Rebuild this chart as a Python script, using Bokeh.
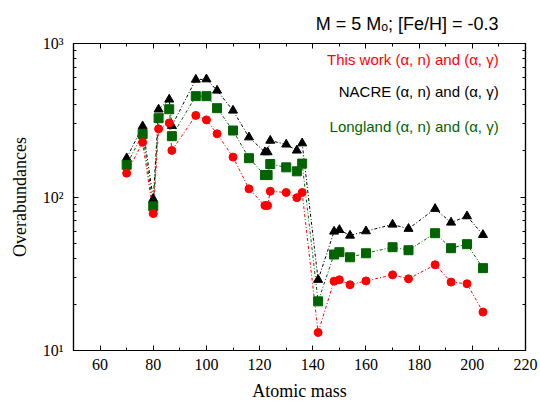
from bokeh.plotting import figure
from bokeh.models import (LinearAxis, LogAxis, SingleIntervalTicker, FixedTicker, Label,
                          CustomJSTickFormatter)
from bokeh.embed import file_html
from bokeh.resources import INLINE

# ---- data ----
mass = [70, 76, 80, 82, 86, 87, 96, 100, 104, 110, 116, 122, 123, 124, 130, 134, 136,
        142, 148, 150, 154, 160, 170, 176, 186, 192, 198, 204]
this_work = [143, 227, 78, 278, 304, 201, 340, 318, 258, 182, 113, 88, 88, 109, 107, 99, 107,
             13.1, 28.3, 28.9, 26.8, 28.4, 31.1, 29.3, 36.2, 27.9, 27.2, 17.8]
nacre = [179, 289, 97, 372, 432, 291, 582, 585, 494, 366, 245, 196, 196, 233, 220, 201, 224,
         28.9, 59.6, 61.1, 56.1, 59.9, 66.2, 62.1, 83.8, 68.2, 75.0, 56.7]
longland = [162, 257, 87, 326, 373, 249, 454, 454, 379, 271, 179, 139, 139, 164, 156, 147, 165,
            20.9, 42.2, 43.7, 40.5, 43.0, 47.1, 45.0, 58.1, 46.4, 49.3, 34.4]

legend_labels = ["This work (\u03b1, n) and (\u03b1, \u03b3)",
                 "NACRE (\u03b1, n) and (\u03b1, \u03b3)",
                 "Longland (\u03b1, n) and (\u03b1, \u03b3)"]
colors = ["#ff0000", "#000000", "#006400"]
title_text = "M = 5 M\u2092; [Fe/H] = -0.3"
x_label = "Atomic mass"
y_label = "Overabundances"
y_major = [10, 100, 1000]
y_major_labels = ["10\u00b9", "10\u00b2", "10\u00b3"]
y_minor = [m * d for d in (10, 100) for m in range(2, 10)]

p = figure(width=540, height=416, x_range=(50, 220), y_range=(10, 1000),
           y_axis_type="log", output_backend="svg", toolbar_location=None,
           min_border_left=73, min_border_right=15, min_border_top=43, min_border_bottom=66)
p.xgrid.visible = False
p.ygrid.visible = False
p.outline_line_color = "black"
p.outline_line_width = 1.2
p.background_fill_color = "white"
p.border_fill_color = "white"

serif = "Liberation Serif"
sans = "Liberation Sans"

p.title.text = title_text
p.title.align = "right"
p.title.offset = 27
p.title.text_font = sans
p.title.text_font_size = "18px"
p.title.text_font_style = "normal"
p.title.text_color = "black"
p.title.vertical_align = "top"
p.title.standoff = 16

def style_axis(ax, show_labels):
    ax.axis_line_color = "black"
    ax.axis_line_width = 1.2
    ax.major_tick_in = 5
    ax.major_tick_out = 0
    ax.minor_tick_in = 3
    ax.minor_tick_out = 0
    ax.major_tick_line_color = "black"
    ax.minor_tick_line_color = "black"
    ax.major_label_text_font = serif
    ax.major_label_text_font_size = "16px"
    ax.major_label_text_color = "black"
    ax.axis_label_text_font = serif
    ax.axis_label_text_font_size = "18px"
    ax.axis_label_text_font_style = "normal"
    ax.axis_label_text_color = "black"
    if not show_labels:
        ax.formatter = CustomJSTickFormatter(code="return ''")
        ax.major_label_standoff = 0

xa = p.xaxis[0]
xa.ticker = SingleIntervalTicker(interval=20, num_minor_ticks=2)
style_axis(xa, True)
xa.axis_label = x_label
xa.major_label_standoff = 8
xa.axis_label_standoff = 8

ya = p.yaxis[0]
ya.ticker = FixedTicker(ticks=y_major, minor_ticks=y_minor)
style_axis(ya, True)
ya.axis_label = y_label
ya.major_label_standoff = 10
ya.axis_label_standoff = 10
ya.major_label_overrides = {v: s for v, s in zip(y_major, y_major_labels)}

top = LinearAxis(ticker=SingleIntervalTicker(interval=20, num_minor_ticks=2))
style_axis(top, False)
p.add_layout(top, "above")

right = LogAxis(ticker=FixedTicker(ticks=y_major, minor_ticks=y_minor))
style_axis(right, False)
p.add_layout(right, "right")

series = [nacre, longland, this_work]
scolors = ["#000000", "#006400", "#ff0000"]
markers = ["triangle", "square", "circle"]
sizes = [9, 9, 8]
for ys, c in zip(series, scolors):
    p.line(mass, ys, line_color=c, line_width=1.0, line_dash="3 2 1 2")
for ys, c, m, s in zip(series, scolors, markers, sizes):
    p.scatter(mass, ys, marker=m, size=s, fill_color=c, line_color=c)

# legend-like texts inside the plot
for lab, c, yy in zip(legend_labels, colors, [787, 490, 290]):
    p.add_layout(Label(x=209.9, y=yy, text=lab, text_align="right", text_baseline="middle",
                       text_font=sans, text_font_size="15px", text_color=c))

open("out.html", "w").write(file_html(p, INLINE))
